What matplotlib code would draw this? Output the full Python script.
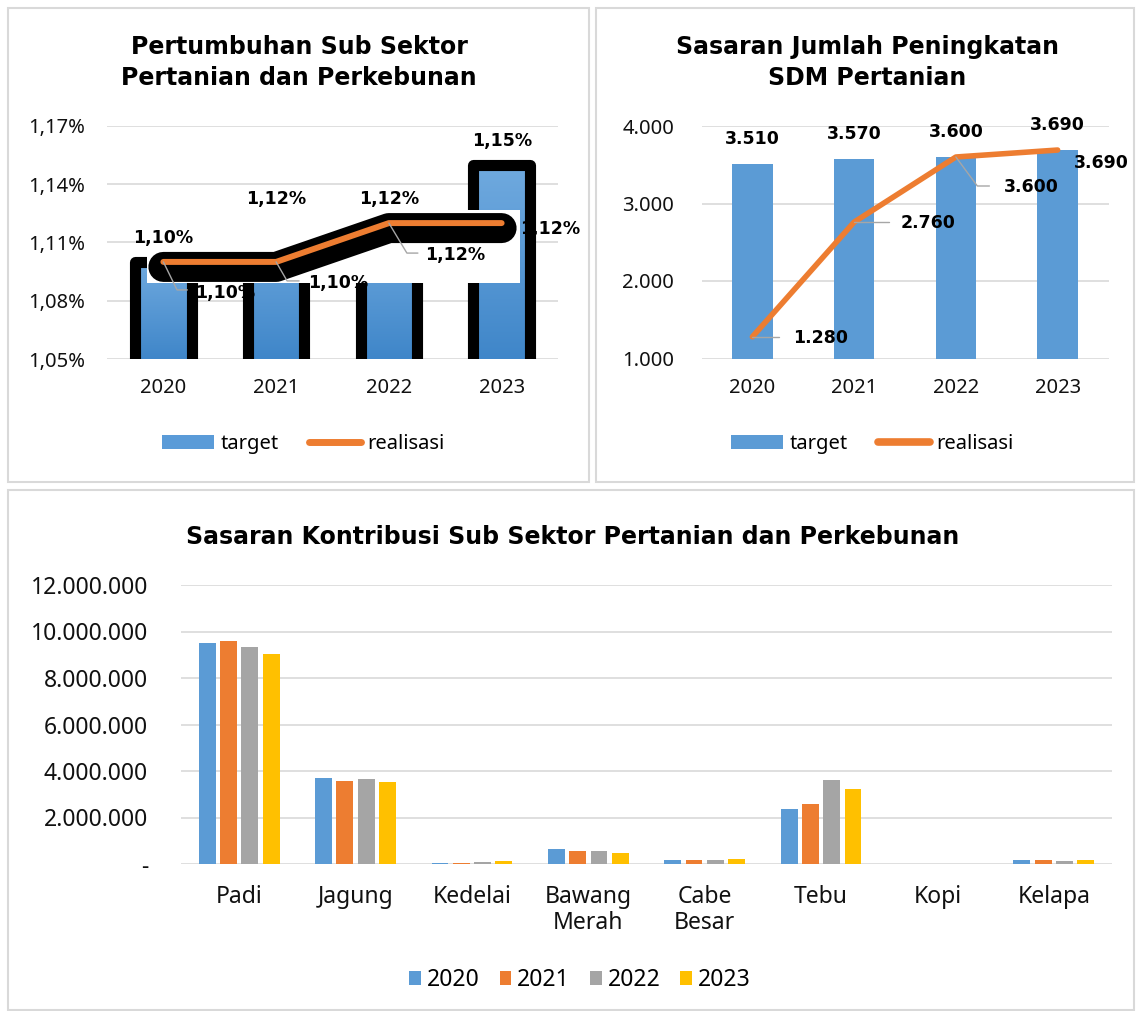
import numpy as np
import matplotlib
matplotlib.use('Agg')
import matplotlib.pyplot as plt
from matplotlib.patches import Rectangle, Patch
from matplotlib.lines import Line2D
from matplotlib.colors import LinearSegmentedColormap
import matplotlib.patheffects as pe
from matplotlib.ticker import FixedLocator, FuncFormatter

# ---------------- data ----------------
years = ['2020', '2021', '2022', '2023']
growth_target = [1.10, 1.12, 1.12, 1.15]      # %
growth_real = [1.10, 1.10, 1.12, 1.12]        # %
sdm_target = [3510, 3570, 3600, 3690]
sdm_real = [1280, 2760, 3600, 3690]

commodities = ['Padi', 'Jagung', 'Kedelai', 'Bawang\nMerah', 'Cabe\nBesar',
               'Tebu', 'Kopi', 'Kelapa']
contrib_2020 = [9490000, 3700000, 60000, 630000, 155000, 2350000, 8000, 155000]
contrib_2021 = [9600000, 3570000, 55000, 570000, 155000, 2570000, 8000, 155000]
contrib_2022 = [9340000, 3670000, 65000, 545000, 185000, 3610000, 8000, 150000]
contrib_2023 = [9040000, 3530000, 110000, 455000, 228000, 3240000, 8000, 155000]

growth_ticks = [1.05, 1.08, 1.11, 1.14, 1.17]
sdm_ticks = [1000, 2000, 3000, 4000]
contrib_ticks = [0, 2e6, 4e6, 6e6, 8e6, 10e6, 12e6]

BLUE = '#5B9BD5'
ORANGE = '#ED7D31'
GRAY = '#A5A5A5'
GOLD = '#FFC000'
GRID = '#D9D9D9'
LEADER = '#A6A6A6'

TICKFONT = 'Noto Sans'
BOLDFONT = 'DejaVu Sans'

W, H = 1136, 1011
fig = plt.figure(figsize=(W / 100, H / 100), dpi=100)


def fx(px):
    return px / W


def fy(py):
    return 1 - py / H


def axes_px(left, top, right, bottom):
    return fig.add_axes([fx(left), fy(bottom), (right - left) / W, (bottom - top) / H])


def pct(v, p=None):
    return f"{v:.2f}%".replace('.', ',')


def thou(v, p=None):
    if abs(v) < 0.5:
        return '-'
    return f"{v:,.0f}".replace(',', '.')


def style_axes(ax, ypad, xpad, size):
    for s in ax.spines.values():
        s.set_visible(False)
    ax.grid(axis='y', color=GRID, lw=1.2, zorder=0)
    ax.set_axisbelow(True)
    ax.tick_params(axis='both', length=0, labelsize=size, labelcolor='#111111')
    ax.tick_params(axis='y', pad=ypad)
    ax.tick_params(axis='x', pad=xpad)
    for lab in ax.get_xticklabels() + ax.get_yticklabels():
        lab.set_fontfamily(TICKFONT)


# panel borders
for (l, t, r, b) in [(8, 8, 589, 482), (596, 8, 1134, 482), (8, 490, 1134, 1010)]:
    fig.add_artist(Rectangle((fx(l), fy(b)), (r - l) / W, (b - t) / H,
                             transform=fig.transFigure, fill=False,
                             ec=GRID, lw=1.5))

# ---------------- chart 1 ----------------
ax1 = axes_px(107, 126, 558, 359)
x = np.arange(len(years))
ax1.set_xlim(-0.5, 3.5)
ax1.set_ylim(growth_ticks[0], growth_ticks[-1])
ax1.yaxis.set_major_locator(FixedLocator(growth_ticks))
ax1.yaxis.set_major_formatter(FuncFormatter(pct))
ax1.set_xticks(x)
ax1.set_xticklabels(years)
style_axes(ax1, 15.8, 14, 14.5)

cmap = LinearSegmentedColormap.from_list('g', ['#3F86C9', '#70AADF'])
fills = ax1.bar(x, growth_target, width=0.5, color=BLUE, zorder=2)
grad = np.linspace(0, 1, 256).reshape(-1, 1)
for b in fills:
    im = ax1.imshow(grad, cmap=cmap, origin='lower', aspect='auto',
                    extent=(b.get_x(), b.get_x() + b.get_width(),
                            growth_ticks[0], b.get_height()), zorder=2.1)
    im.set_clip_path(b)
ax1.bar(x, growth_target, width=0.5, facecolor='none', edgecolor='black',
        lw=8, joinstyle='round', zorder=2.3)
ax1.set_xlim(-0.5, 3.5)
ax1.set_ylim(growth_ticks[0], growth_ticks[-1])
# white occluding block as in the source rendering
ax1.add_patch(Rectangle((-0.145, 1.0893), 3.307, 0.0373, facecolor='white',
                        edgecolor='none', zorder=3))
ax1.plot(x, growth_real, color=ORANGE, lw=4.3, solid_capstyle='round',
         solid_joinstyle='round', zorder=4,
         path_effects=[pe.Stroke(linewidth=21.6, foreground='black',
                                 offset=(0, -3.6), capstyle='round',
                                 joinstyle='round'), pe.Normal()])

lab_kw = dict(textcoords='offset pixels', ha='center', va='center',
              fontsize=12.5, fontweight='bold', family=BOLDFONT, zorder=6)
for i, v in enumerate(growth_target):
    ax1.annotate(pct(v), (i, v), xytext=(0, 24), **lab_kw)
real_off1 = [(62, -31), (62, -21), (66, -32), (48, -6)]
lead1 = [((24, -28), -64), ((23, -19), -60), ((29, -30), -59), None]
for i, v in enumerate(growth_real):
    ax1.annotate(pct(v), (i, v), xytext=real_off1[i], **lab_kw)
    if lead1[i] is not None:
        (dx, dy), ang = lead1[i]
        ax1.annotate('', (i, v), xytext=(dx, dy), textcoords='offset pixels',
                     arrowprops=dict(arrowstyle='-', color=LEADER, lw=1,
                                     shrinkA=0, shrinkB=0,
                                     connectionstyle=f'angle,angleA=0,angleB={ang},rad=0'),
                     zorder=5)

fig.text(fx(299), fy(47), 'Pertumbuhan Sub Sektor', ha='center', va='center',
         fontsize=17, fontweight='bold', family=BOLDFONT)
fig.text(fx(299), fy(78), 'Pertanian dan Perkebunan', ha='center', va='center',
         fontsize=17, fontweight='bold', family=BOLDFONT)

h1 = [Patch(facecolor='#5A9BD8', edgecolor='none'),
      Line2D([], [], color=ORANGE, lw=5, solid_capstyle='round')]
fig.legend(h1, ['target', 'realisasi'], loc='center',
           bbox_to_anchor=(fx(303), fy(444)), ncol=2, frameon=False,
           prop={'family': TICKFONT, 'size': 14.5}, handlelength=2.6,
           handleheight=0.7, handletextpad=0.3, columnspacing=1.5)

# ---------------- chart 2 ----------------
ax2 = axes_px(701.5, 126, 1108.5, 358.5)
ax2.bar(x, sdm_target, width=0.4, color=BLUE, zorder=2)
ax2.plot(x, sdm_real, color=ORANGE, lw=4, solid_capstyle='round',
         solid_joinstyle='round', zorder=4)
ax2.set_xlim(-0.5, 3.5)
ax2.set_ylim(sdm_ticks[0], sdm_ticks[-1])
ax2.yaxis.set_major_locator(FixedLocator(sdm_ticks))
ax2.yaxis.set_major_formatter(FuncFormatter(thou))
ax2.set_xticks(x)
ax2.set_xticklabels(years)
style_axes(ax2, 19.8, 14, 14.5)

for i, v in enumerate(sdm_target):
    ax2.annotate(thou(v), (i, v), xytext=(0, 25), **lab_kw)
real_off2 = [(68, -1), (74, -1), (75, -30), (44, -13)]
lead2 = [((27, 0), 90), ((35, 0), 90), ((33.5, -29), -53.5), None]
for i, v in enumerate(sdm_real):
    ax2.annotate(thou(v), (i, v), xytext=real_off2[i], **lab_kw)
    if lead2[i] is not None:
        (dx, dy), ang = lead2[i]
        ax2.annotate('', (i, v), xytext=(dx, dy), textcoords='offset pixels',
                     arrowprops=dict(arrowstyle='-', color=LEADER, lw=1,
                                     shrinkA=0, shrinkB=0,
                                     connectionstyle=f'angle,angleA=0,angleB={ang},rad=0'),
                     zorder=5)

fig.text(fx(867), fy(47), 'Sasaran Jumlah Peningkatan', ha='center', va='center',
         fontsize=17, fontweight='bold', family=BOLDFONT)
fig.text(fx(867), fy(78), 'SDM Pertanian', ha='center', va='center',
         fontsize=17, fontweight='bold', family=BOLDFONT)

h2 = [Patch(facecolor=BLUE, edgecolor='none'),
      Line2D([], [], color=ORANGE, lw=5.5, solid_capstyle='round')]
fig.legend(h2, ['target', 'realisasi'], loc='center',
           bbox_to_anchor=(fx(872), fy(444)), ncol=2, frameon=False,
           prop={'family': TICKFONT, 'size': 14.5}, handlelength=2.6,
           handleheight=0.7, handletextpad=0.3, columnspacing=1.5)

# ---------------- chart 3 ----------------
ax3 = axes_px(181, 585, 1112, 864)
xc = np.arange(len(commodities))
pitch, bw = 0.183, 0.145
series = [(contrib_2020, BLUE, '2020'), (contrib_2021, ORANGE, '2021'),
          (contrib_2022, GRAY, '2022'), (contrib_2023, GOLD, '2023')]
for k, (vals, col, lab) in enumerate(series):
    ax3.bar(xc + (k - 1.5) * pitch, vals, width=bw, color=col,
            edgecolor='none', label=lab, zorder=2)
ax3.set_xlim(-0.5, len(commodities) - 0.5)
ax3.set_ylim(contrib_ticks[0], contrib_ticks[-1])
ax3.yaxis.set_major_locator(FixedLocator(contrib_ticks))
ax3.yaxis.set_major_formatter(FuncFormatter(thou))
ax3.set_xticks(xc)
ax3.set_xticklabels(commodities, linespacing=1.1)
style_axes(ax3, 23.8, 15, 16.5)

fig.text(fx(573), fy(537), 'Sasaran Kontribusi Sub Sektor Pertanian dan Perkebunan',
         ha='center', va='center', fontsize=17, fontweight='bold', family=BOLDFONT)

h3 = [Patch(facecolor=c, edgecolor='none') for _, c, _ in series]
fig.legend(h3, [s[2] for s in series], loc='center',
           bbox_to_anchor=(fx(580), fy(980)), ncol=4, frameon=False,
           prop={'family': TICKFONT, 'size': 16.5}, handlelength=0.52,
           handleheight=0.52, handletextpad=0.25, columnspacing=0.87)

fig.savefig('out.png', dpi=100, facecolor='white')
